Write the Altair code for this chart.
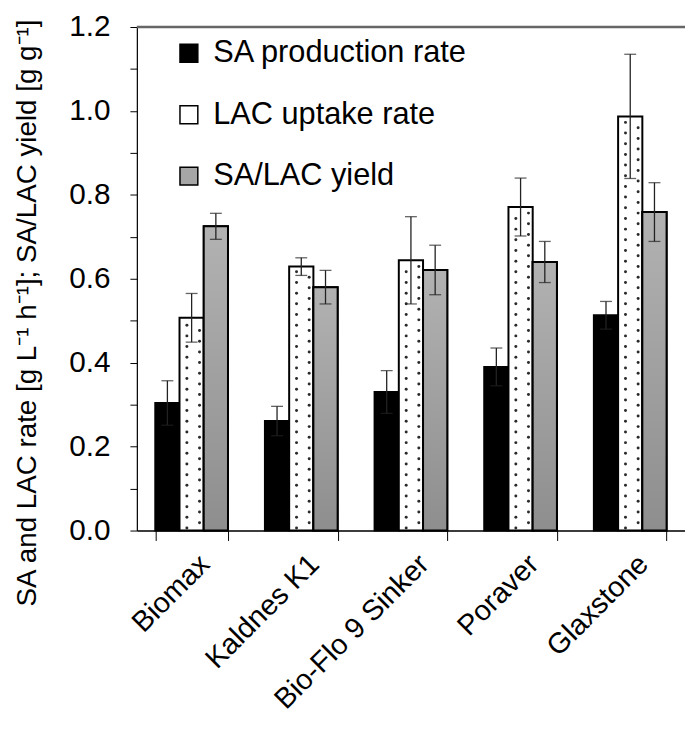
import altair as alt
import pandas as pd

categories = ["Biomax", "Kaldnes K1", "Bio-Flo 9 Sinker", "Poraver", "Glaxstone"]
series = ["SA production rate", "LAC uptake rate", "SA/LAC yield"]
sa_rate = [0.304, 0.261, 0.330, 0.390, 0.513]
sa_err = [0.053, 0.035, 0.051, 0.045, 0.033]
lac_rate = [0.507, 0.629, 0.644, 0.771, 0.987]
lac_err = [0.058, 0.021, 0.104, 0.069, 0.148]
yield_val = [0.725, 0.580, 0.621, 0.640, 0.759]
yield_err = [0.031, 0.040, 0.059, 0.049, 0.070]
y_ticks = [round(0.1 * i, 1) for i in range(13)]

rows = []
for vals, errs, s in [(sa_rate, sa_err, series[0]), (lac_rate, lac_err, series[1]), (yield_val, yield_err, series[2])]:
    for c, v, e in zip(categories, vals, errs):
        rows.append({"cat": c, "series": s, "value": v, "lo": v - e, "hi": v + e})
df = pd.DataFrame(rows)

# dotted texture for the LAC bars (decorative pattern that follows each bar's height)
slots = [str(i) for i in range(24)]
step = 0.02544
dots = []
for c, v in zip(categories, lac_rate):
    for slot, start in [("10", 0.006), ("14", 0.0187)]:
        k = 0
        while start + k * step < v - 0.012:
            dots.append({"cat": c, "slot": slot, "value": start + k * step})
            k += 1
dd = pd.DataFrame(dots)

FONT = "Liberation Sans"

x_enc = alt.X("cat:N", sort=categories,
              scale=alt.Scale(paddingInner=0.337, paddingOuter=0.168),
              axis=alt.Axis(title=None, labelAngle=315, labelAlign="right", labelBaseline="top",
                            labelFont=FONT, labelFontSize=29, labelColor="black",
                            labelPadding=9, labelOffset=3, labelLimit=0,
                            tickBand="extent", tickSize=10, tickColor="black", tickWidth=1,
                            domainColor="black", domainWidth=1.5, grid=False))
x_plain = alt.X("cat:N", sort=categories)
xo_enc = alt.XOffset("series:N", sort=series, scale=alt.Scale(domain=series, paddingInner=0, paddingOuter=0))
y_scale = alt.Scale(domain=[0, 1.2], nice=False)
y_enc = alt.Y("value:Q", scale=y_scale,
              axis=alt.Axis(title="SA and LAC rate [g L⁻¹ h⁻¹]; SA/LAC yield [g g⁻¹]",
                            values=y_ticks,
                            labelExpr="round(datum.value*10) % 2 == 0 ? format(datum.value, '.1f') : ''",
                            labelFont=FONT, labelFontSize=30, labelColor="black", labelPadding=20,
                            tickSize=7, tickColor="black", domainColor="black", domainWidth=1.2,
                            titleFont=FONT, titleFontSize=28, titleFontWeight="normal", titleColor="black",
                            titleX=-110, titleY=288, titleAlign="center", titleBaseline="middle",
                            grid=False))

base = alt.Chart(df)

bars = base.mark_bar(stroke="black", strokeWidth=2).encode(
    x=x_enc, xOffset=xo_enc, y=y_enc,
    fill=alt.Fill("series:N", sort=series,
                  scale=alt.Scale(domain=series, range=["black", "white", "#a6a6a6"]),
                  legend=alt.Legend(orient="none", legendX=37, legendY=11, title=None,
                                    symbolType="square", symbolSize=324,
                                    symbolStrokeColor="black", symbolStrokeWidth=1.5,
                                    labelFont=FONT, labelFontSize=31, labelColor="black",
                                    rowPadding=30, labelOffset=9, padding=0,
                                    labelLimit=400)),
)

grad = base.transform_filter(alt.datum.series == series[2]).mark_bar(
    stroke="black", strokeWidth=2,
    fill=alt.Gradient(gradient="linear", x1=0, x2=0, y1=0, y2=1,
                      stops=[alt.GradientStop(color="#b2b2b2", offset=0),
                             alt.GradientStop(color="#8e8e8e", offset=1)]),
).encode(x=x_plain, xOffset=xo_enc, y=alt.Y("value:Q", scale=y_scale))

dot_layer = alt.Chart(dd).mark_circle(size=9, color="#2a2a2a", opacity=1).encode(
    x=x_plain,
    xOffset=alt.XOffset("slot:N", scale=alt.Scale(domain=slots, paddingInner=0, paddingOuter=0)),
    y=alt.Y("value:Q", scale=y_scale))

err = base.mark_rule(color="#222222", strokeWidth=1.3).encode(
    x=x_plain, xOffset=xo_enc,
    y=alt.Y("lo:Q", scale=y_scale), y2="hi:Q")
cap_hi = base.mark_tick(color="#222222", thickness=1.3, size=12, orient="horizontal").encode(
    x=x_plain, xOffset=xo_enc, y=alt.Y("hi:Q", scale=y_scale))
cap_lo = base.mark_tick(color="#222222", thickness=1.3, size=12, orient="horizontal").encode(
    x=x_plain, xOffset=xo_enc, y=alt.Y("lo:Q", scale=y_scale))

top_line = alt.Chart(pd.DataFrame({"v": [1.2]})).mark_rule(color="#666666", strokeWidth=2.5).encode(
    y=alt.Y("v:Q", scale=y_scale))

chart = alt.layer(bars, grad, dot_layer, err, cap_hi, cap_lo, top_line).resolve_scale(
    xOffset="independent"
).properties(
    width=553, height=508,
    autosize=alt.AutoSizeParams(type="none"),
    padding={"left": 130, "top": 16, "right": 0, "bottom": 193},
).configure_view(stroke=None).configure(background="white")

chart.save("out.html", embed_options={"renderer": "svg", "actions": False})
